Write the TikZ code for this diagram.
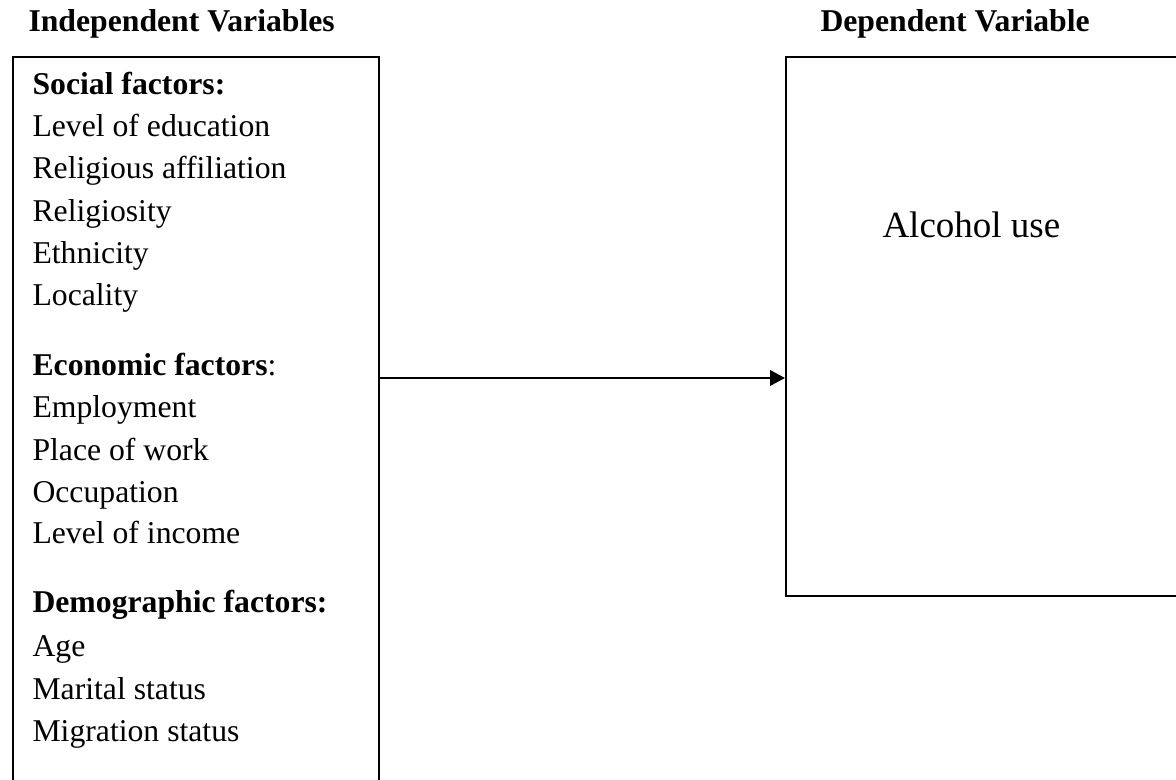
\documentclass[tikz,border=0pt]{standalone}
\usepackage{fontspec}
\setmainfont{Liberation Serif}
\usetikzlibrary{arrows.meta}

\tikzset{
  box/.style={draw=black,line width=0.8pt,rectangle,inner sep=0pt},
  item/.style={anchor=base west,inner sep=0pt,font=\fontsize{12}{14}\selectfont},
  head/.style={item,font=\fontsize{12}{14}\selectfont\bfseries},
  conn/.style={line width=0.75pt,-{Triangle[length=5.6pt,width=5.8pt]}}
}

\begin{document}
\begin{tikzpicture}[x=0.3785pt, y=-0.3785pt]
            \useasboundingbox (0,0) rectangle (1176,780);
            \clip (0,0) rectangle (1176,780);

            \node[head] (H_1) at (28,32)  {Independent Variables};
            \node[head] (H_2) at (820,32) {Dependent Variable};

            \node[box,anchor=north west,minimum width=138.5pt,minimum height=285pt] (indep) at (12,56) {};
            \node[box,anchor=north west,minimum width=153.5pt,minimum height=204pt] (dep) at (785,56) {};

            % social factors
            \node[head] (S_0) at (32,95)  {Social factors:};
            \node[item] (S_1) at (32,137) {Level of education};
            \node[item] (S_2) at (32,179) {Religious affiliation};
            \node[item] (S_3) at (32,222) {Religiosity};
            \node[item] (S_4) at (32,264) {Ethnicity};
            \node[item] (S_5) at (32,306) {Locality};

            % economic factors
            \node[item] (E_0) at (32,376) {\textbf{Economic factors}:};
            \node[item] (E_1) at (32,418) {Employment};
            \node[item] (E_2) at (32,461) {Place of work};
            \node[item] (E_3) at (32,503) {Occupation};
            \node[item] (E_4) at (32,544) {Level of income};

            % demographic factors
            \node[head] (D_0) at (32,613) {Demographic factors:};
            \node[item] (D_1) at (32,657) {Age};
            \node[item] (D_2) at (32,700) {Marital status};
            \node[item] (D_3) at (32,742) {Migration status};

            \node[item,font=\fontsize{14}{16}\selectfont] (A) at (882,238) {Alcohol use};

            \coordinate (M) at (0,378);
            \draw[conn] (indep.east |- M) -- (dep.west |- M);
        \end{tikzpicture}
\end{document}
